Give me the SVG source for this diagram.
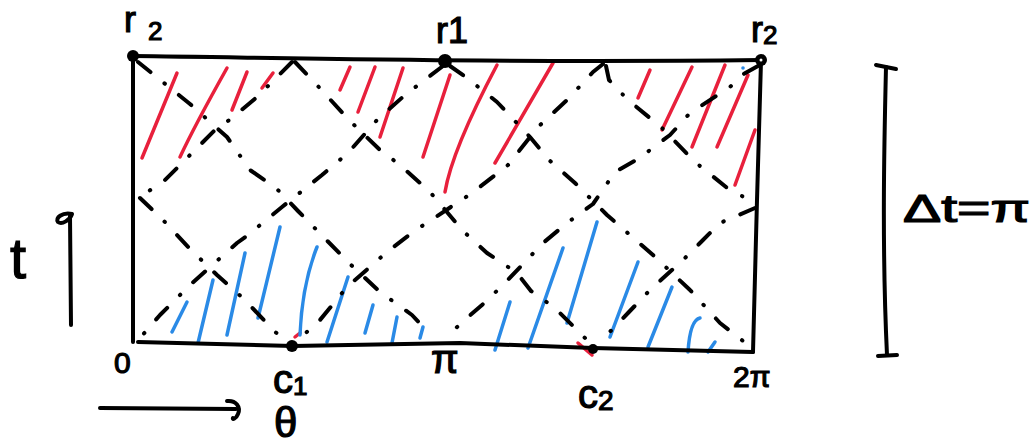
<svg xmlns="http://www.w3.org/2000/svg" width="1036" height="445" viewBox="0 0 1036 445">
<style>
.frame{fill:none;stroke:#000;stroke-width:4;stroke-linecap:round;stroke-linejoin:round}
.ray{fill:none;stroke:#000;stroke-width:4;stroke-linecap:round;stroke-linejoin:round;stroke-dasharray:16 18 0.5 18}
.red{fill:none;stroke:#e8203c;stroke-width:3.5;stroke-linecap:round}
.blue{fill:none;stroke:#2a8ae6;stroke-width:3.5;stroke-linecap:round}
.lbl{font-family:"Liberation Sans",Arial,sans-serif;fill:#000;stroke:#000;stroke-width:1.2}
.pt{fill:#000}
</style>
<rect width="1036" height="445" fill="#fff"/>
<g id="hatch-red">
<path class="red" d="M142,158 L177,73"/>
<path class="red" d="M180,157 Q195,125 227,68"/>
<path class="red" d="M232,110 L247,72"/>
<path class="red" d="M262,88 L273,73"/>
<path class="red" d="M340,90 L350,67"/>
<path class="red" d="M358,112 L375,67"/>
<path class="red" d="M380,137 L403,68"/>
<path class="red" d="M423,157 L450,75"/>
<path class="red" d="M445,192 Q452,150 497,65"/>
<path class="red" d="M495,163 L553,63"/>
<path class="red" d="M638,98 L650,70"/>
<path class="red" d="M662,130 L692,67"/>
<path class="red" d="M692,147 L725,65"/>
<path class="red" d="M717,147 L748,75"/>
<path class="red" d="M735,185 L755,130"/>
<path class="red" d="M578,343 L592,355"/>
<path class="red" d="M295,337 L300,333"/>
</g>
<g id="hatch-blue">
<path class="blue" d="M172,332 L187,302"/>
<path class="blue" d="M198,343 L213,280"/>
<path class="blue" d="M227,335 L245,253"/>
<path class="blue" d="M258,318 L280,227"/>
<path class="blue" d="M300,335 Q302,285 317,247"/>
<path class="blue" d="M327,342 L348,277"/>
<path class="blue" d="M365,333 L373,305"/>
<path class="blue" d="M392,343 L397,317"/>
<path class="blue" d="M420,338 L423,327"/>
<path class="blue" d="M495,350 L510,302"/>
<path class="blue" d="M528,348 L563,248"/>
<path class="blue" d="M567,323 L597,222"/>
<path class="blue" d="M610,337 L638,262"/>
<path class="blue" d="M648,347 L672,287"/>
<path class="blue" d="M688,352 Q690,320 700,318"/>
<path class="blue" d="M708,352 L715,342"/>
<circle cx="743" cy="68" r="1.8" fill="#2a8ae6"/>
</g>
<g id="connectors">
<polyline class="ray" points="138,62 190,104 227,137 250,170 276,188 298,211 349,263 380,292 412,315 428,332"/>
<polyline class="ray" points="295,62 316,84 350,121 380,150 400,165 430,192 463,231 487,253 517,273 531,291 555,308 590,343"/>
<polyline class="ray" points="450,66 467,78 497,102 530,137 549,160 575,183 607,215 653,255 690,290 720,323 752,348"/>
<polyline class="ray" points="606,66 609,80 628,100 661,127 695,162 726,187 756,204"/>
<polyline class="ray" points="140,198 163,220 191,250 217,275 245,300 275,332 292,343"/>
<polyline class="ray" points="758,66 742,75 730,87 690,113 670,135 638,159 615,172 593,204 567,223 543,243 503,285 482,305 467,318 445,338"/>
<polyline class="ray" points="603,64 593,72 567,100 538,127 508,165 472,193 413,232 387,252 347,287 320,320 298,340"/>
<polyline class="ray" points="443,66 405,95 377,120 348,153 322,175 282,207 248,235 237,243 190,285 160,315 140,338"/>
<polyline class="ray" points="292,62 257,97 232,118 215,130 192,153 165,180 140,197"/>
<polyline class="ray" points="755,208 720,223 703,240 683,260 650,290 628,313 600,342"/>
</g>
<g id="frame">
<path class="frame" d="M133,56 C300,58 500,63 761,60"/>
<path class="frame" d="M133,56 L133,342"/>
<path class="frame" d="M138,342 L293,346 L460,343 L593,348 L753,352"/>
<path class="frame" d="M761,61 L757,200 L753,352"/>
</g>
<g id="r2-left"><circle class="pt" cx="133" cy="56" r="6"/>
<text class="lbl" x="124" y="32" font-size="36">r<tspan font-size="26" dx="12" dy="8">2</tspan></text></g>
<g id="r1"><circle class="pt" cx="445" cy="61" r="7"/>
<text class="lbl" x="436" y="43" font-size="36">r1</text></g>
<g id="r2-right"><circle class="pt" cx="761" cy="60" r="6"/><circle cx="761" cy="60" r="1.5" fill="#fff"/>
<text class="lbl" x="751" y="42" font-size="36">r<tspan font-size="26" dy="2">2</tspan></text></g>
<g id="c1"><circle class="pt" cx="292" cy="346" r="6"/>
<text class="lbl" x="273" y="393" font-size="40">c<tspan font-size="26" dy="2">1</tspan></text></g>
<g id="c2"><circle class="pt" cx="593" cy="349" r="5"/>
<text class="lbl" x="578" y="408" font-size="40">c<tspan font-size="28" dy="2">2</tspan></text></g>
<g id="axis-labels">
<text class="lbl" x="114" y="373" font-size="30">0</text>
<text class="lbl" x="431" y="373" font-size="40">π</text>
<text class="lbl" x="733" y="387" font-size="30">2π</text>
<text class="lbl" x="274" y="437" font-size="42">θ</text>
<text class="lbl" x="10" y="278" font-size="58">t</text>
<text class="lbl" x="903" y="222" font-size="38" textLength="127" lengthAdjust="spacingAndGlyphs">Δt=π</text>
</g>
<g id="axes">
<path class="frame" d="M100,408 L236,409"/>
<path class="frame" d="M227,401 C236,400 241,407 238,414 C236,419 232,420 233,418"/>
<path class="frame" d="M70,216 L71,325"/>
<path class="frame" d="M72,214 C62,212 55,218 58,222 C62,225 70,220 72,214"/>
<path class="frame" d="M886,67 C884,150 882,250 887,355"/>
<path class="frame" d="M876,65 L896,69"/>
<path class="frame" d="M878,356 L897,355"/>
</g>
</svg>
